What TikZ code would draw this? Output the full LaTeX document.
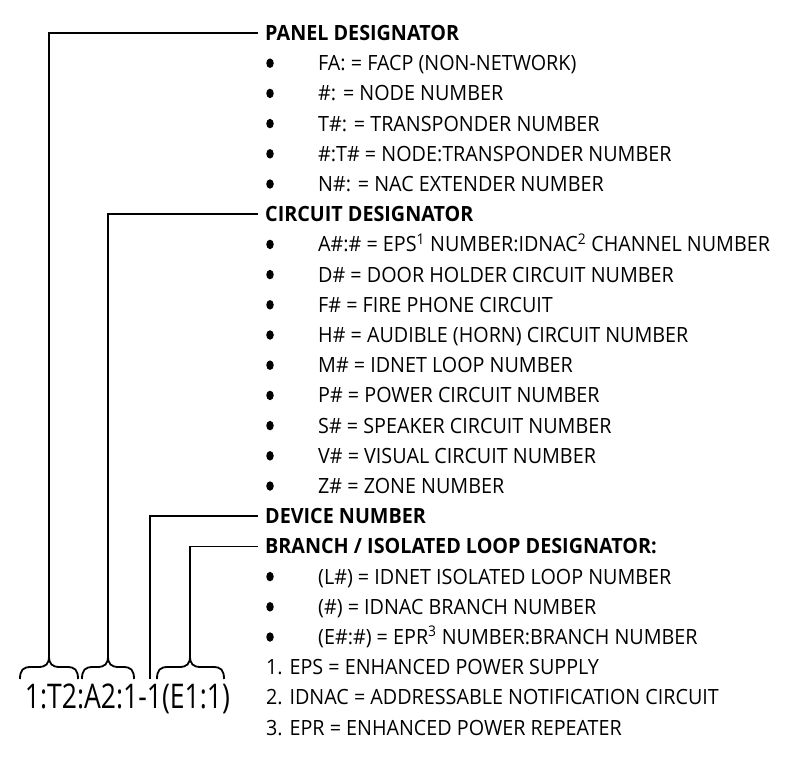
\documentclass[tikz,border=0pt]{standalone}
\usepackage{fontspec}
\usepackage{graphicx}
\setmainfont[FakeStretch=0.94]{Open Sans}
\usetikzlibrary{shapes.geometric}
\newcommand\mybrace[3]{%
  (#1,679) .. controls (#1,670) and (#1+3,667) .. (#1+11,667) -- (#2-11,667)
  .. controls (#2-3,667) and (#2,664) .. (#2,656)
  .. controls (#2,664) and (#2+3,667) .. (#2+11,667) -- (#3-11,667)
  .. controls (#3-3,667) and (#3,670) .. (#3,679)}
\begin{document}
\begin{tikzpicture}[x=1pt,y=-1pt,
  conn/.style={line width=1.8pt},
  head/.style={anchor=base west, inner sep=0pt, text height=15pt, text depth=0pt,
    font=\bfseries\fontsize{21}{25}\selectfont},
  item/.style={anchor=base west, inner sep=0pt, font=\fontsize{21}{25}\selectfont},
  bul/.style={ellipse, fill=black, inner sep=0pt, minimum width=7.5pt, minimum height=9.5pt},
  eq/.style={anchor=base, inner sep=0pt, font=\fontsize{34}{38}\selectfont}]
\useasboundingbox (0,0) rectangle (796,761);
% headings
\node[head] (panel)   at (265,{33+7.5})          {PANEL DESIGNATOR};
\node[head] (circuit) at (265,{33+30.2*6+7.5})   {CIRCUIT DESIGNATOR};
\node[head] (device)  at (265,{33+30.2*16+7.5})  {DEVICE NUMBER};
\node[head] (branch)  at (265,{33+30.2*17+7.5})  {BRANCH / ISOLATED LOOP DESIGNATOR:};
% bullet items
\foreach \k/\t in {1/{FA: = FACP (NON-NETWORK)},
                   2/{\#: = NODE NUMBER},
                   3/{T\#: = TRANSPONDER NUMBER},
                   4/{\#:T\# = NODE:TRANSPONDER NUMBER},
                   5/{N\#: = NAC EXTENDER NUMBER},
                   7/{A\#:\# = EPS\textsuperscript{1} NUMBER:IDNAC\textsuperscript{2} CHANNEL NUMBER},
                   8/{D\# = DOOR HOLDER CIRCUIT NUMBER},
                   9/{F\# = FIRE PHONE CIRCUIT},
                   10/{H\# = AUDIBLE (HORN) CIRCUIT NUMBER},
                   11/{M\# = IDNET LOOP NUMBER},
                   12/{P\# = POWER CIRCUIT NUMBER},
                   13/{S\# = SPEAKER CIRCUIT NUMBER},
                   14/{V\# = VISUAL CIRCUIT NUMBER},
                   15/{Z\# = ZONE NUMBER},
                   18/{(L\#) = IDNET ISOLATED LOOP NUMBER},
                   19/{(\#) = IDNAC BRANCH NUMBER},
                   20/{(E\#:\#) = EPR\textsuperscript{3} NUMBER:BRANCH NUMBER}}{
  \node[bul]  (b\k) at (270,{33+30.2*\k}) {};
  \node[item] (i\k) at (318,{33+30.2*\k+7.5}) {\t};
}
% notes
\node[item] (n1) at (266,{33+30.2*21+7.5}) {1. EPS = ENHANCED POWER SUPPLY};
\node[item] (n2) at (266,{33+30.2*22+7.5}) {2. IDNAC = ADDRESSABLE NOTIFICATION CIRCUIT};
\node[item] (n3) at (266,{33+30.2*23+7.5}) {3. EPR = ENHANCED POWER REPEATER};
% address code
\node[eq] (code) at (127.5,708) {\resizebox{205pt}{\height}{1:T2:A2:1-1(E1:1)}};
% braces and connectors
\draw[conn] \mybrace{20}{49}{78};
\draw[conn] \mybrace{82}{108}{134};
\draw[conn] \mybrace{157}{190}{224};
\coordinate (tip1) at (49,656);
\coordinate (tip2) at (108,656);
\coordinate (tip3) at (190,656);
\coordinate (devend) at (150,679);
\draw[conn] (tip1) |- ([xshift=-7pt]panel.west);
\draw[conn] (tip2) |- ([xshift=-7pt]circuit.west);
\draw[conn] (devend) |- ([xshift=-7pt]device.west);
\draw[conn] (tip3) |- ([xshift=-7pt]branch.west);
\end{tikzpicture}
\end{document}
